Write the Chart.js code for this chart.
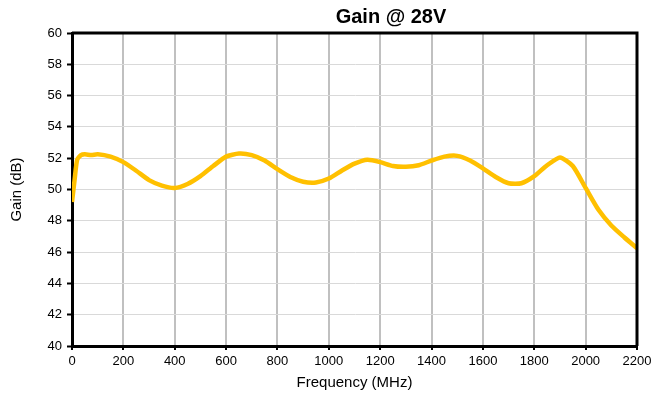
<!DOCTYPE html>
<html>
<head>
<meta charset="utf-8">
<script src="https://cdn.jsdelivr.net/npm/chart.js@4/dist/chart.umd.min.js"></script>
<style>
  html, body { margin: 0; padding: 0; background: #fff; }
  #wrap { width: 653px; height: 400px; }
</style>
</head>
<body>
<div id="wrap"><canvas id="gainChart" width="653" height="400"></canvas></div>
<script>
// Frequency points (MHz) and gain (dB)
const freqMHz = [0, 10, 20, 35, 50, 75, 100, 150, 200, 250, 300, 350, 400, 450, 500, 550,
    600, 650, 700, 750, 800, 850, 900, 950, 1000, 1050, 1100, 1150, 1200, 1250, 1300, 1350,
    1400, 1450, 1500, 1550, 1600, 1650, 1700, 1750, 1800, 1850, 1900, 1950, 2000, 2050,
    2100, 2150, 2200];
const gainDb = [49.2, 50.6, 51.9, 52.2, 52.25, 52.2, 52.25, 52.1, 51.75, 51.2, 50.6, 50.25,
    50.1, 50.35, 50.85, 51.5, 52.1, 52.3, 52.2, 51.85, 51.3, 50.8, 50.5, 50.45, 50.7, 51.2,
    51.65, 51.9, 51.75, 51.5, 51.45, 51.55, 51.85, 52.1, 52.15, 51.85, 51.35, 50.8, 50.4,
    50.4, 50.85, 51.55, 52.05, 51.5, 50.1, 48.7, 47.7, 46.95, 46.25];

const chartTitle = 'Gain @ 28V';
const xTitle = 'Frequency (MHz)';
const yTitle = 'Gain (dB)';

const fontFamily = '"Liberation Sans", Arial, sans-serif';

// Draw the box round the plot area and the title
const frameAndTitle = {
    id: 'frameAndTitle',
    afterDraw(chart) {
        const ctx = chart.ctx;
        const a = chart.chartArea;
        ctx.save();
        ctx.strokeStyle = '#000';
        ctx.lineWidth = 3;
        ctx.beginPath();
        ctx.moveTo(a.left, a.top);
        ctx.lineTo(a.right, a.top);
        ctx.lineTo(a.right, a.bottom);
        ctx.stroke();
        ctx.fillStyle = '#000';
        ctx.font = 'bold 20px ' + fontFamily;
        ctx.textAlign = 'center';
        ctx.textBaseline = 'middle';
        ctx.fillText(chartTitle, 391, 17);
        ctx.restore();
    }
};

const points = freqMHz.map((f, i) => ({ x: f, y: gainDb[i] }));

const ctx = document.getElementById('gainChart').getContext('2d');
window.gainChart = new Chart(ctx, {
    type: 'line',
    data: {
        datasets: [{
            label: 'Gain',
            data: points,
            borderColor: '#FFC000',
            borderWidth: 4.5,
            pointRadius: 0,
            tension: 0.2,
            fill: false
        }]
    },
    options: {
        responsive: false,
        animation: false,
        layout: { padding: { left: 0, top: 33, right: 16, bottom: 0 } },
        plugins: {
            legend: { display: false },
            title: { display: false },
            tooltip: { enabled: false }
        },
        scales: {
            x: {
                type: 'linear',
                min: 0,
                max: 2200,
                afterFit: (scale) => {
                    scale.height = 54;
                    scale.paddingLeft = 0;
                    scale.paddingRight = 0;
                },
                ticks: {
                    stepSize: 200,
                    color: '#000',
                    padding: 4,
                    maxRotation: 0,
                    callback: (v) => String(v),
                    font: { family: fontFamily, size: 13 }
                },
                grid: {
                    color: '#c0c0c0',
                    lineWidth: 2,
                    tickColor: '#000',
                    tickWidth: 2,
                    tickLength: 4
                },
                border: { display: true, color: '#000', width: 3 },
                title: {
                    display: true,
                    text: xTitle,
                    color: '#000',
                    padding: { top: 0, bottom: 8 },
                    font: { family: fontFamily, size: 15 }
                }
            },
            y: {
                min: 40,
                max: 60,
                afterFit: (scale) => { scale.width = 72; },
                ticks: {
                    stepSize: 2,
                    color: '#000',
                    padding: 5,
                    callback: (v) => String(v),
                    font: { family: fontFamily, size: 13 }
                },
                grid: {
                    color: '#d9d9d9',
                    lineWidth: 1,
                    tickColor: '#000',
                    tickWidth: 2,
                    tickLength: 5
                },
                border: { display: true, color: '#000', width: 3 },
                title: {
                    display: true,
                    text: yTitle,
                    color: '#000',
                    padding: { top: 8, bottom: 0 },
                    font: { family: fontFamily, size: 15 }
                }
            }
        }
    },
    plugins: [frameAndTitle]
});
</script>
</body>
</html>
